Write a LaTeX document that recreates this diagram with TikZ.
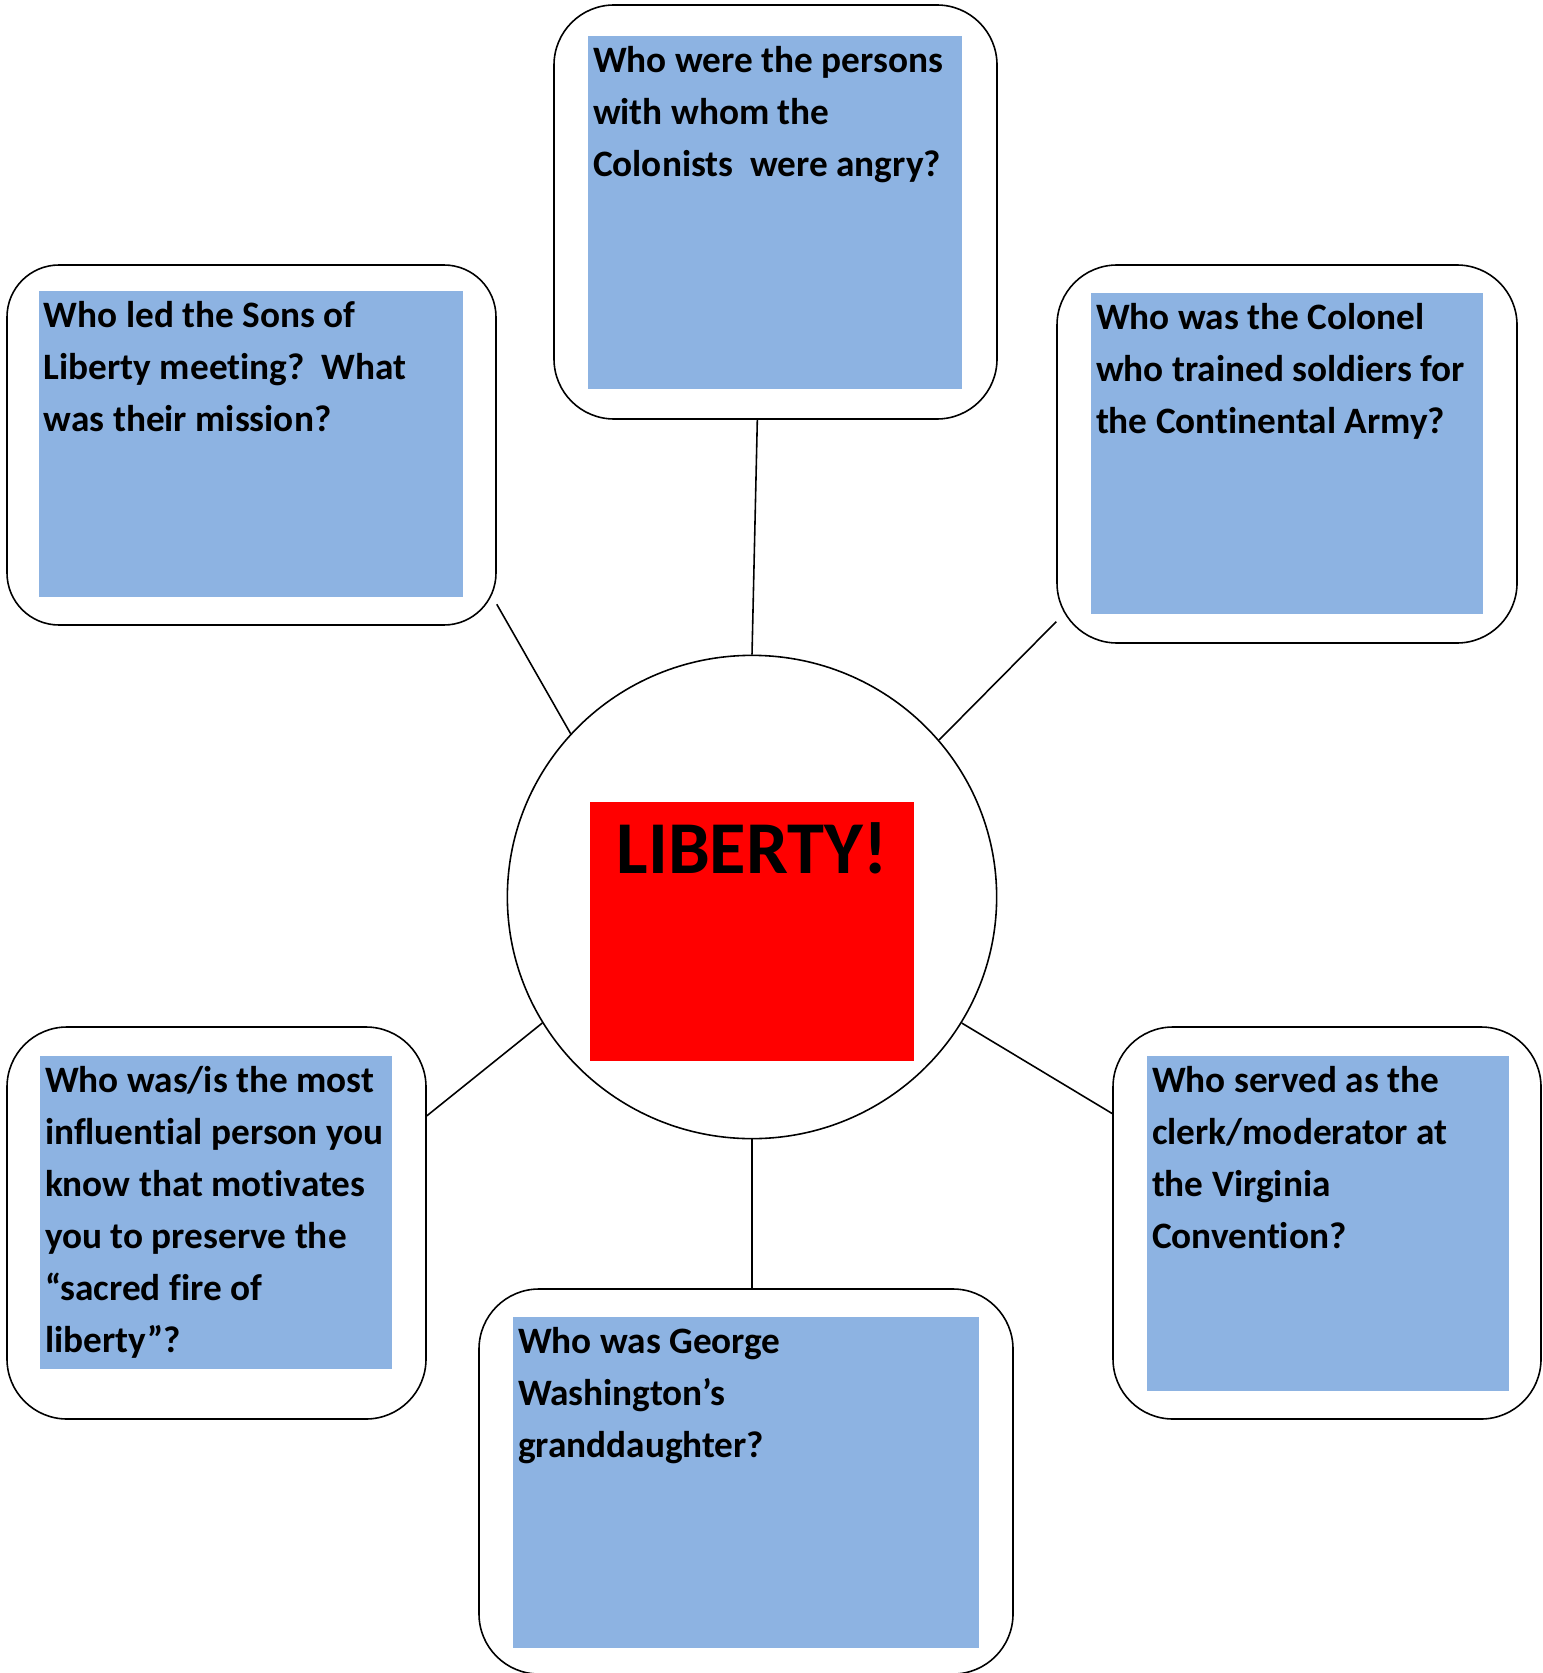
\documentclass[tikz,border=0pt]{standalone}
\usepackage{fontspec}
\setmainfont{Carlito}[Ligatures=NoCommon]
\usetikzlibrary{fit,calc,shapes.geometric}
\definecolor{qblue}{HTML}{8DB3E2}
\definecolor{libred}{HTML}{FF0000}

\begin{document}
\begin{tikzpicture}[
  x=0.01cm,y=-0.01cm,
  bubble/.style={draw=black,line width=0.45pt,fill=white,rounded corners=0.6cm,inner sep=0pt},
  qbox/.style={fill=qblue,inner sep=0pt},
  qtext/.style={anchor=north west,inner sep=0pt,align=left,font=\fontsize{10.6}{14.8}\selectfont\bfseries},
  spoke/.style={line width=0.45pt,black}
  ]
  \useasboundingbox (0,0) rectangle (1542,1673);
  % centre
  \node[draw=black,line width=0.45pt,ellipse,inner sep=0pt,minimum width=4.89cm,minimum height=4.83cm] (hub) at (752,897) {};
  \node[fill=libred,inner sep=0pt,fit={(590,802) (914,1061)}] (libbox) {};
  \node[anchor=north,inner sep=0pt,font=\fontsize{21.2}{26}\selectfont\bfseries] (libtx) at ($(libbox.north)+(0,21)$) {LIBERTY!};
  % question bubbles
  \node[bubble,fit={(554,5) (997,419)}] (qtop) {};
  \node[qbox,fit={(588,36) (962,389)}] (qtopin) {};
  \node[qtext] (qtoptx) at ($(qtopin.north west)+(5,10)$) {Who were the persons\\with whom the\\Colonists\ \ were angry?};
  \node[bubble,rounded corners=0.52cm,fit={(7,265) (496,625)}] (qlead) {};
  \node[qbox,fit={(39,291) (463,597)}] (qleadin) {};
  \node[qtext] (qleadtx) at ($(qleadin.north west)+(5,10)$) {Who led the Sons of\\Liberty meeting?\ \ What\\was their mission?};
  \node[bubble,fit={(1057,265) (1517,643)}] (qcol) {};
  \node[qbox,fit={(1091,293) (1483,614)}] (qcolin) {};
  \node[qtext] (qcoltx) at ($(qcolin.north west)+(5,10)$) {Who was the Colonel\\who trained soldiers for\\the Continental Army?};
  \node[bubble,fit={(7,1027) (426,1419)}] (qmot) {};
  \node[qbox,fit={(40,1056) (392,1369)}] (qmotin) {};
  \node[qtext] (qmottx) at ($(qmotin.north west)+(5,10)$) {Who was/is the most\\influential person you\\know that motivates\\you to preserve the\\“sacred fire of\\liberty”?};
  \node[bubble,fit={(479,1289) (1013,1674)}] (qgrand) {};
  \node[qbox,fit={(513,1317) (979,1648)}] (qgrandin) {};
  \node[qtext] (qgrandtx) at ($(qgrandin.north west)+(5,10)$) {Who was George\\Washington’s\\granddaughter?};
  \node[bubble,fit={(1113,1027) (1541,1419)}] (qclerk) {};
  \node[qbox,fit={(1147,1056) (1509,1391)}] (qclerkin) {};
  \node[qtext] (qclerktx) at ($(qclerkin.north west)+(5,10)$) {Who served as the\\clerk/moderator at\\the Virginia\\Convention?};
  % spokes
  \draw[spoke] (qtop.265.4) -- (hub.90);
  \draw[spoke] (qlead.-33.8) -- (hub.138.7);
  \draw[spoke] (qcol.216.6) -- (hub.40.35);
  \draw[spoke] (qmot.27.5) -- (hub.211.6);
  \draw[spoke] (qclerk.153.65) -- (hub.-31.9);
  \draw[spoke] (hub.south) -- (hub.south |- qgrand.north);
\end{tikzpicture}
\end{document}
